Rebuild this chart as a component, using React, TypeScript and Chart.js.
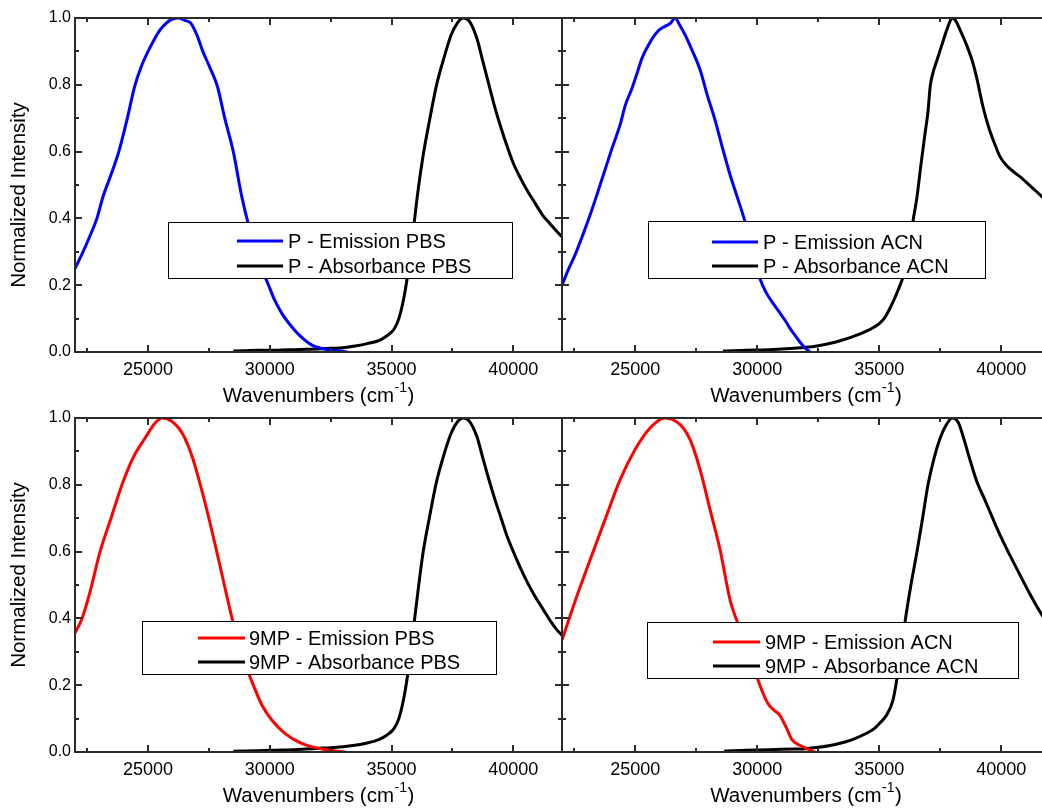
import React, { useEffect, useRef } from 'react';
import { Chart, registerables } from 'chart.js';

Chart.register(...registerables);

const FONT = '"Liberation Sans", Arial, Helvetica, sans-serif';

// ---------- axis ticks & titles ----------
const xMin = 22000;
const xMax = 42000;
const xMajorTicks = [25000, 30000, 35000, 40000];
const xMinorTicks = [22500, 27500, 32500, 37500];
const yMajorTicks = [0, 0.2, 0.4, 0.6, 0.8, 1.0];
const yMinorTicks = [0.1, 0.3, 0.5, 0.7, 0.9];
const xTitleMain = 'Wavenumbers (cm';
const xTitleSup = '-1';
const xTitleEnd = ')';
const yTitle = 'Normalized Intensity';

// ---------- P in PBS ----------
const pPbsEmX = [22000, 22300, 22600, 22900, 23150, 23500, 23800, 24150, 24450, 24750, 25000, 25250, 25500, 25750, 26000, 26250, 26500, 26750, 27000, 27250, 27550, 27850, 28150, 28500, 28850, 29200, 29450, 29700, 29950, 30200, 30500, 30850, 31150, 31450, 31750, 32050, 32450, 32900, 33200];
const pPbsEmY = [0.25, 0.295, 0.345, 0.40, 0.465, 0.535, 0.60, 0.70, 0.795, 0.86, 0.90, 0.935, 0.965, 0.985, 0.997, 1.0, 0.993, 0.985, 0.95, 0.90, 0.85, 0.795, 0.70, 0.60, 0.465, 0.36, 0.30, 0.245, 0.20, 0.155, 0.115, 0.08, 0.055, 0.035, 0.02, 0.012, 0.006, 0.003, 0.0];
const pPbsAbX = [28500, 29000, 29500, 30000, 30500, 31000, 31500, 32000, 32500, 33000, 33500, 34000, 34500, 34800, 35100, 35300, 35500, 35700, 35900, 36100, 36300, 36550, 36850, 37150, 37450, 37700, 37950, 38200, 38500, 38750, 39000, 39250, 39500, 39750, 40000, 40300, 40600, 40900, 41200, 41500, 41800, 42000];
const pPbsAbY = [0.003, 0.004, 0.005, 0.005, 0.006, 0.007, 0.008, 0.009, 0.011, 0.013, 0.018, 0.025, 0.035, 0.048, 0.068, 0.1, 0.16, 0.25, 0.37, 0.49, 0.59, 0.69, 0.8, 0.88, 0.95, 0.985, 1.0, 0.99, 0.94, 0.87, 0.8, 0.73, 0.67, 0.615, 0.565, 0.52, 0.48, 0.445, 0.41, 0.385, 0.36, 0.345];

// ---------- P in ACN ----------
const pAcnEmX = [22000, 22250, 22530, 22850, 23150, 23450, 23760, 24050, 24380, 24600, 24870, 25100, 25280, 25550, 25810, 26000, 26220, 26450, 26630, 26850, 27040, 27350, 27660, 27950, 28270, 28580, 28890, 29200, 29500, 29800, 30110, 30350, 30610, 30900, 31140, 31350, 31550, 31750, 31960, 32160];
const pAcnEmY = [0.20, 0.245, 0.29, 0.35, 0.41, 0.475, 0.545, 0.61, 0.68, 0.74, 0.79, 0.84, 0.88, 0.92, 0.95, 0.965, 0.975, 0.985, 1.0, 0.975, 0.95, 0.90, 0.845, 0.77, 0.695, 0.61, 0.53, 0.46, 0.39, 0.30, 0.22, 0.18, 0.15, 0.12, 0.095, 0.07, 0.05, 0.03, 0.012, 0.0];
const pAcnAbX = [28600, 29000, 29500, 30000, 30500, 31000, 31500, 32000, 32500, 33000, 33500, 34000, 34500, 34800, 35000, 35200, 35400, 35600, 35800, 36000, 36200, 36380, 36550, 36700, 36880, 37000, 37090, 37200, 37350, 37550, 37750, 37900, 38000, 38150, 38310, 38550, 38800, 39000, 39250, 39500, 39750, 39950, 40200, 40500, 40770, 41000, 41300, 41670, 42000];
const pAcnAbY = [0.003, 0.004, 0.005, 0.006, 0.007, 0.009, 0.011, 0.014, 0.019, 0.026, 0.036, 0.048, 0.063, 0.075, 0.085, 0.1, 0.125, 0.155, 0.19, 0.23, 0.3, 0.39, 0.465, 0.555, 0.655, 0.72, 0.795, 0.835, 0.87, 0.915, 0.96, 0.99, 1.0, 0.99, 0.965, 0.925, 0.875, 0.82, 0.735, 0.67, 0.62, 0.585, 0.56, 0.54, 0.525, 0.51, 0.49, 0.465, 0.44];

// ---------- 9MP in PBS ----------
const mPbsEmX = [22000, 22290, 22620, 23030, 23480, 23930, 24380, 24880, 25290, 25570, 25980, 26400, 26810, 27220, 27630, 28040, 28450, 28860, 29270, 29680, 30090, 30630, 31240, 31860, 32470, 33090];
const mPbsEmY = [0.356, 0.40, 0.48, 0.60, 0.70, 0.80, 0.88, 0.94, 0.985, 1.0, 0.99, 0.955, 0.885, 0.78, 0.66, 0.53, 0.40, 0.29, 0.21, 0.14, 0.095, 0.055, 0.028, 0.013, 0.005, 0.0];
const mPbsAbX = [28500, 29000, 29500, 30000, 30500, 31000, 31500, 32000, 32500, 33000, 33500, 34000, 34500, 34800, 35100, 35300, 35500, 35700, 35900, 36100, 36300, 36550, 36850, 37150, 37450, 37700, 37950, 38200, 38500, 38750, 39000, 39250, 39500, 39750, 40000, 40300, 40600, 40900, 41200, 41500, 41800, 42000];
const mPbsAbY = [0.002, 0.003, 0.004, 0.005, 0.006, 0.007, 0.009, 0.011, 0.013, 0.016, 0.02, 0.027, 0.038, 0.05, 0.07, 0.1, 0.16, 0.25, 0.37, 0.49, 0.6, 0.7, 0.81, 0.89, 0.955, 0.988, 1.0, 0.99, 0.945, 0.88, 0.815, 0.755, 0.70, 0.645, 0.6, 0.55, 0.505, 0.465, 0.43, 0.395, 0.365, 0.35];

// ---------- 9MP in ACN ----------
const mAcnEmX = [22000, 22530, 23150, 23760, 24380, 24990, 25610, 26220, 26840, 27250, 27660, 28070, 28480, 28890, 29290, 29700, 30110, 30440, 30690, 30930, 31180, 31430, 31750, 32160, 32370];
const mAcnEmY = [0.335, 0.45, 0.575, 0.695, 0.815, 0.905, 0.97, 1.0, 0.98, 0.935, 0.845, 0.725, 0.605, 0.455, 0.37, 0.29, 0.2, 0.145, 0.125, 0.11, 0.075, 0.036, 0.02, 0.006, 0.0];
const mAcnAbX = [28650, 29000, 29500, 30000, 30500, 31000, 31500, 32000, 32500, 33100, 33600, 34000, 34500, 34800, 35030, 35300, 35565, 35730, 35900, 36060, 36300, 36550, 36800, 37000, 37250, 37500, 37750, 38000, 38250, 38500, 38720, 39000, 39330, 39650, 39950, 40350, 40770, 41200, 41670, 42000];
const mAcnAbY = [0.003, 0.004, 0.005, 0.006, 0.007, 0.008, 0.009, 0.01, 0.014, 0.021, 0.03, 0.04, 0.057, 0.07, 0.087, 0.11, 0.155, 0.22, 0.3, 0.39, 0.5, 0.6, 0.71, 0.8, 0.88, 0.94, 0.98, 1.0, 0.985, 0.93, 0.875, 0.81, 0.755, 0.70, 0.65, 0.59, 0.53, 0.47, 0.41, 0.375];

const BLUE = '#0000FF';
const RED = '#FF0000';
const BLACK = '#000000';

type Series = { label: string; color: string; xs: number[]; ys: number[] };
type LegendBox = { x: number; y: number; w: number; h: number; lineX: number; lineW: number; textX: number; baselines: number[] };
type PanelDef = {
  key: string;
  left: number;
  top: number;
  width: number;
  height: number;
  padLeft: number;
  padRight: number;
  padTop: number;
  yAxisWidth: number;
  showY: boolean;
  yTitleCenter: number;
  series: Series[];
  legend: LegendBox;
};

const PLOT_BOTTOM = 352; // local chart-area bottom in every canvas

const panels: PanelDef[] = [
  {
    key: 'tl', left: 0, top: 0, width: 564, height: 412, padLeft: 0, padRight: 2, padTop: 18, yAxisWidth: 75, showY: true, yTitleCenter: 195,
    series: [
      { label: 'P - Emission PBS', color: BLUE, xs: pPbsEmX, ys: pPbsEmY },
      { label: 'P - Absorbance PBS', color: BLACK, xs: pPbsAbX, ys: pPbsAbY },
    ],
    legend: { x: 168, y: 222, w: 344, h: 56, lineX: 237, lineW: 46, textX: 288, baselines: [248, 273] },
  },
  {
    key: 'tr', left: 560, top: 0, width: 492, height: 412, padLeft: 2, padRight: 2, padTop: 18, yAxisWidth: 0, showY: false, yTitleCenter: 0,
    series: [
      { label: 'P - Emission ACN', color: BLUE, xs: pAcnEmX, ys: pAcnEmY },
      { label: 'P - Absorbance ACN', color: BLACK, xs: pAcnAbX, ys: pAcnAbY },
    ],
    legend: { x: 648, y: 221, w: 337, h: 57, lineX: 712, lineW: 46, textX: 763, baselines: [249, 273] },
  },
  {
    key: 'bl', left: 0, top: 400, width: 564, height: 409, padLeft: 0, padRight: 2, padTop: 18, yAxisWidth: 75, showY: true, yTitleCenter: 575,
    series: [
      { label: '9MP - Emission PBS', color: RED, xs: mPbsEmX, ys: mPbsEmY },
      { label: '9MP - Absorbance PBS', color: BLACK, xs: mPbsAbX, ys: mPbsAbY },
    ],
    legend: { x: 142, y: 621, w: 354, h: 53, lineX: 198, lineW: 47, textX: 249, baselines: [645, 669] },
  },
  {
    key: 'br', left: 560, top: 400, width: 492, height: 409, padLeft: 2, padRight: 2, padTop: 18, yAxisWidth: 0, showY: false, yTitleCenter: 0,
    series: [
      { label: '9MP - Emission ACN', color: RED, xs: mAcnEmX, ys: mAcnEmY },
      { label: '9MP - Absorbance ACN', color: BLACK, xs: mAcnAbX, ys: mAcnAbY },
    ],
    legend: { x: 647, y: 622, w: 371, h: 56, lineX: 713, lineW: 47, textX: 765, baselines: [649, 673] },
  },
];

function toPoints(xs: number[], ys: number[]) {
  return xs.map((x, i) => ({ x, y: ys[i] }));
}

function makeDeco(p: PanelDef) {
  return {
    id: 'deco-' + p.key,
    afterDraw(chart: any) {
      const { ctx, chartArea: a } = chart;
      const sx = chart.scales.x;
      const sy = chart.scales.y;
      ctx.save();
      // frame
      ctx.strokeStyle = '#2b2b2b';
      ctx.lineWidth = 2;
      ctx.strokeRect(a.left, a.top, a.right - a.left, a.bottom - a.top);
      // inward ticks
      ctx.beginPath();
      const xTick = (vals: number[], len: number) => {
        vals.forEach((v) => {
          if (v < xMin || v > xMax) return;
          const px = Math.round(sx.getPixelForValue(v));
          ctx.moveTo(px, a.bottom);
          ctx.lineTo(px, a.bottom - len);
          ctx.moveTo(px, a.top);
          ctx.lineTo(px, a.top + len);
        });
      };
      const yTick = (vals: number[], len: number) => {
        vals.forEach((v) => {
          const py = Math.round(sy.getPixelForValue(v));
          ctx.moveTo(a.left, py);
          ctx.lineTo(a.left + len, py);
          ctx.moveTo(a.right, py);
          ctx.lineTo(a.right - len, py);
        });
      };
      xTick(xMajorTicks, 7);
      xTick(xMinorTicks, 4);
      yTick(yMajorTicks, 7);
      yTick(yMinorTicks, 4);
      ctx.stroke();

      // legend
      const L = p.legend;
      const ox = p.left;
      const oy = p.top;
      ctx.fillStyle = '#ffffff';
      ctx.fillRect(L.x - ox, L.y - oy, L.w, L.h);
      ctx.strokeStyle = '#000000';
      ctx.lineWidth = 1;
      ctx.strokeRect(L.x - ox + 0.5, L.y - oy + 0.5, L.w, L.h);
      ctx.font = `20px ${FONT}`;
      ctx.textAlign = 'left';
      ctx.textBaseline = 'alphabetic';
      chart.data.datasets.forEach((ds: any, i: number) => {
        const by = L.baselines[i] - oy;
        ctx.strokeStyle = ds.borderColor;
        ctx.lineWidth = 3;
        ctx.beginPath();
        ctx.moveTo(L.lineX - ox, by - 7);
        ctx.lineTo(L.lineX - ox + L.lineW, by - 7);
        ctx.stroke();
        ctx.fillStyle = '#000';
        ctx.fillText(ds.label, L.textX - ox, by);
      });

      // x title with superscript
      const mainFont = `20.5px ${FONT}`;
      const supFont = `14px ${FONT}`;
      ctx.font = mainFont;
      const w1 = ctx.measureText(xTitleMain).width;
      const w3 = ctx.measureText(xTitleEnd).width;
      ctx.font = supFont;
      const w2 = ctx.measureText(xTitleSup).width;
      const total = w1 + w2 + w3 + 1;
      let tx = (a.left + a.right) / 2 - total / 2;
      const base = 402;
      ctx.fillStyle = '#000';
      ctx.font = mainFont;
      ctx.fillText(xTitleMain, tx, base);
      tx += w1;
      ctx.font = supFont;
      ctx.fillText(xTitleSup, tx + 0.5, base - 10);
      tx += w2 + 1;
      ctx.font = mainFont;
      ctx.fillText(xTitleEnd, tx, base);

      // y title
      if (p.showY) {
        ctx.translate(25, p.yTitleCenter - oy);
        ctx.rotate(-Math.PI / 2);
        ctx.font = mainFont;
        ctx.textAlign = 'center';
        ctx.textBaseline = 'alphabetic';
        ctx.fillText(yTitle, 0, 0);
      }
      ctx.restore();
    },
  };
}

function Panel({ p }: { p: PanelDef }) {
  const ref = useRef<HTMLCanvasElement | null>(null);
  useEffect(() => {
    if (!ref.current) return;
    const chart = new Chart(ref.current, {
      type: 'scatter',
      data: {
        datasets: p.series.map((s) => ({
          label: s.label,
          data: toPoints(s.xs, s.ys),
          borderColor: s.color,
          backgroundColor: s.color,
          borderWidth: 3,
          showLine: true,
          pointRadius: 0,
          pointHoverRadius: 0,
          fill: false,
          cubicInterpolationMode: 'monotone',
        })),
      },
      options: {
        animation: false,
        responsive: false,
        maintainAspectRatio: false,
        devicePixelRatio: 1,
        events: [],
        layout: { padding: { top: p.padTop, right: p.padRight, bottom: 0, left: p.padLeft } },
        plugins: { legend: { display: false }, tooltip: { enabled: false }, title: { display: false } },
        scales: {
          x: {
            type: 'linear',
            min: xMin,
            max: xMax,
            afterBuildTicks: (s: any) => {
              s.ticks = xMajorTicks.map((v) => ({ value: v }));
            },
            afterFit: (s: any) => {
              s.height = p.height - PLOT_BOTTOM;
            },
            ticks: {
              color: '#000',
              font: { family: FONT, size: 18 },
              padding: 7,
              maxRotation: 0,
              autoSkip: false,
              callback: (v: any) => String(v),
            },
            grid: { display: false, drawTicks: false },
            border: { display: false },
          },
          y: {
            type: 'linear',
            min: 0,
            max: 1,
            display: p.showY,
            afterBuildTicks: (s: any) => {
              s.ticks = yMajorTicks.map((v) => ({ value: v }));
            },
            afterFit: (s: any) => {
              s.width = p.yAxisWidth;
            },
            ticks: {
              color: '#000',
              font: { family: FONT, size: 16 },
              padding: 4,
              callback: (v: any) => Number(v).toFixed(1),
            },
            grid: { display: false, drawTicks: false },
            border: { display: false },
          },
        },
      } as any,
      plugins: [makeDeco(p)],
    } as any);
    return () => chart.destroy();
  }, [p]);
  return (
    <canvas
      ref={ref}
      width={p.width}
      height={p.height}
      style={{ position: 'absolute', left: p.left, top: p.top, width: p.width, height: p.height }}
    />
  );
}

export default function App() {
  return (
    <div
      style={{
        position: 'fixed',
        left: 0,
        top: 0,
        width: 1042,
        height: 809,
        overflow: 'hidden',
        background: '#ffffff',
      }}
    >
      {panels.map((p) => (
        <Panel key={p.key} p={p} />
      ))}
    </div>
  );
}
